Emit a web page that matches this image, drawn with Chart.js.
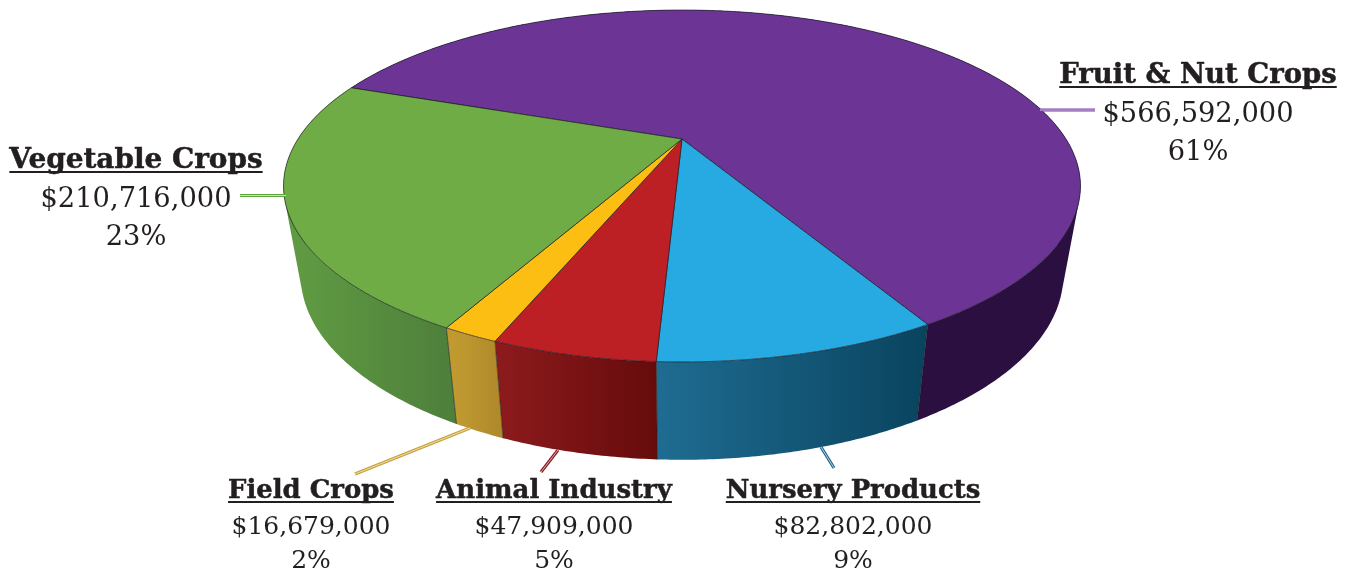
<!DOCTYPE html>
<html>
<head>
<meta charset="utf-8">
<style>
html,body{margin:0;padding:0;background:#fff;}
#wrap{position:relative;width:1348px;height:571px;}
</style>
<script src="https://cdn.jsdelivr.net/npm/chart.js@4"></script>
</head>
<body>
<div id="wrap"><canvas id="c"></canvas></div>
<script>
const categories = ['Fruit & Nut Crops','Nursery Products','Animal Industry','Field Crops','Vegetable Crops'];
const values = [566592000,82802000,47909000,16679000,210716000];
const valueLabels = ['$566,592,000','$82,802,000','$47,909,000','$16,679,000','$210,716,000'];
const percentLabels = ['61%','9%','5%','2%','23%'];
const topColors = ['#6C3494','#26AAE1','#BC2025','#FDBE14','#6FAC46'];
const sideStart = ['#2A0F40','#1F6C92','#8B1A1C','#C09A30','#5F9A42'];
const sideEnd = ['#2A0F40','#0A4560','#660B0B','#AE882A','#4E7E3B'];
const leaderColors = ['#7B3FA8','#1F6C92','#8B1A1C','#C99F35','#5FA63C'];

// Layout of the annotation text: [centre x, title baseline, value baseline, percent baseline, title size, value size]
const labelPos = [[1198,83,122,160,27.5,27.3],[853,498,534,568,25.9,25],[554,498,534,568,26,25],[311,498,534,568,25.9,25],[136,168,207,245,27.9,27.3]];
const leaders = [[[1040,110],[1095,110]],[[821,447],[834,468]],[[558,450],[541,472]],[[470,428],[355,474]],[[286,195.5],[240,195.5]]];

// Perspective camera
const CX=682, CY=139, A=384, B=163.4, K=0.267, SX=0.957, SY=1.05, DY=79.75;
function project(a){
  const u=Math.cos(a), v=Math.sin(a), w=1-K*v;
  return [CX+A*u/w, CY+B*v/w];
}
function lower(p){ return [CX+(p[0]-CX)*SX, p[1]*SY+DY]; }

const pie3d = {
  id:'pie3d',
  beforeDatasetsDraw(chart){
    const ctx=chart.ctx, arcs=chart.getDatasetMeta(0).data;
    const slices=arcs.map((arc,i)=>{
      const {startAngle:s,endAngle:e}=arc.getProps(['startAngle','endAngle'],true);
      const n=Math.max(6,Math.ceil((e-s)/(Math.PI/180)*2));
      const pts=[]; for(let k=0;k<=n;k++) pts.push(project(s+(e-s)*k/n));
      return {i,s,e,pts,low:pts.map(lower)};
    });
    ctx.save();
    ctx.lineJoin='round';
    // side wall: one path per slice, every quad wound the same way
    slices.forEach(sl=>{
      const vis=sl.low.filter((p,k)=>sl.pts[k][1]>CY+20);
      const xs=vis.map(p=>p[0]);
      const g=ctx.createLinearGradient(Math.min(...xs),0,Math.max(...xs),0);
      g.addColorStop(0,sideStart[sl.i]); g.addColorStop(1,sideEnd[sl.i]);
      ctx.fillStyle=g;
      ctx.beginPath();
      for(let k=0;k<sl.pts.length-1;k++){
        let q=[sl.pts[k],sl.pts[k+1],sl.low[k+1],sl.low[k]];
        let area=0;
        for(let m=0;m<4;m++){const p=q[m],r=q[(m+1)%4];area+=p[0]*r[1]-r[0]*p[1];}
        if(area<0) q=q.reverse();
        ctx.moveTo(q[0][0],q[0][1]);
        for(let m=1;m<4;m++) ctx.lineTo(q[m][0],q[m][1]);
        ctx.closePath();
      }
      ctx.fill('nonzero');
    });
    // seams on the wall
    ctx.strokeStyle='rgba(30,30,30,0.75)'; ctx.lineWidth=0.8;
    slices.forEach(sl=>{
      const a=sl.pts[0], d=sl.low[0];
      if(a[1]>CY+20){ctx.beginPath();ctx.moveTo(a[0],a[1]);ctx.lineTo(d[0],d[1]);ctx.stroke();}
    });
    // top face
    slices.forEach(sl=>{
      ctx.beginPath();ctx.moveTo(CX,CY);
      sl.pts.forEach(p=>ctx.lineTo(p[0],p[1]));
      ctx.closePath();
      ctx.fillStyle=topColors[sl.i];ctx.fill();
      ctx.strokeStyle='rgba(25,25,35,0.75)';ctx.lineWidth=0.9;ctx.stroke();
    });
    // leader lines
    leaders.forEach((l,i)=>{
      ctx.beginPath();ctx.moveTo(l[0][0],l[0][1]);ctx.lineTo(l[1][0],l[1][1]);
      ctx.strokeStyle=leaderColors[i];ctx.lineWidth=3.2;ctx.lineCap='butt';ctx.stroke();
      ctx.beginPath();ctx.moveTo(l[0][0],l[0][1]);ctx.lineTo(l[1][0],l[1][1]);
      ctx.strokeStyle='rgba(255,255,255,0.65)';ctx.lineWidth=1;ctx.stroke();
    });
    // labels
    ctx.textAlign='center';ctx.textBaseline='alphabetic';ctx.fillStyle='#231F20';ctx.strokeStyle='#231F20';
    categories.forEach((name,i)=>{
      const [x,y1,y2,y3,titleSize,valueSize]=labelPos[i];
      ctx.font='bold '+titleSize+'px "DejaVu Serif"';
      ctx.lineWidth=0.5;
      ctx.fillText(name,x,y1);
      ctx.strokeText(name,x,y1);
      const w=ctx.measureText(name).width;
      ctx.fillRect(x-w/2,y1+3,w,2);
      ctx.font=valueSize+'px "DejaVu Serif"';
      ctx.fillText(valueLabels[i],x,y2);
      ctx.fillText(percentLabels[i],x,y3);
    });
    ctx.restore();
    return false;
  }
};

new Chart(document.getElementById('c'),{
  type:'pie',
  data:{labels:categories,datasets:[{data:values,backgroundColor:topColors,borderWidth:0}]},
  options:{
    responsive:true,maintainAspectRatio:false,animation:false,
    rotation:290,
    plugins:{legend:{display:false},tooltip:{enabled:false},title:{display:false}},
    layout:{padding:0}
  },
  plugins:[pie3d]
});
</script>
</body>
</html>
